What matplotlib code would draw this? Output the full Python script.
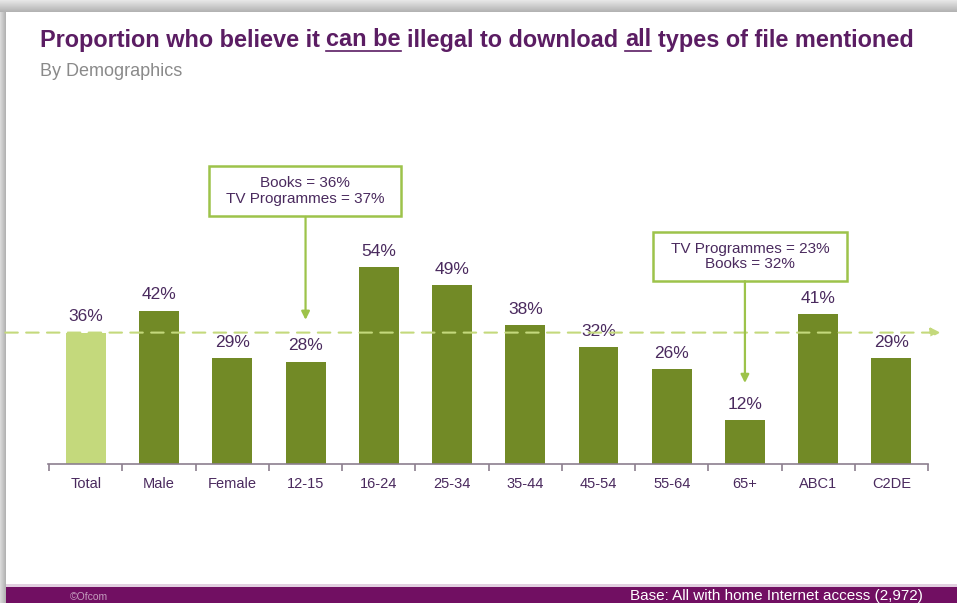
import numpy as np
import matplotlib
matplotlib.use("Agg")
from matplotlib import pyplot as plt
from matplotlib.patches import Rectangle

categories = ["Total", "Male", "Female", "12-15", "16-24", "25-34", "35-44",
              "45-54", "55-64", "65+", "ABC1", "C2DE"]
values = [36, 42, 29, 28, 54, 49, 38, 32, 26, 12, 41, 29]
total_value = values[0]

callouts = [
    (3, ["Books = 36%", "TV Programmes = 37%"]),
    (9, ["TV Programmes = 23%", "Books = 32%"]),
]

PURPLE = "#5b1d63"
TEXT = "#4a2a5e"
DARK_GREEN = "#728a26"
LIGHT_GREEN = "#c4d97c"
LINE_GREEN = "#9dc34a"
W, H = 957, 603

fig = plt.figure(figsize=(W / 100, H / 100), dpi=100)

# page decoration in pixel coordinates
bg = fig.add_axes([0, 0, 1, 1])
bg.set_xlim(0, W)
bg.set_ylim(H, 0)
bg.axis("off")
shade = np.linspace(0.9, 0.7, 12)[:, None] * np.ones((12, 2))
bg.imshow(shade, cmap="gray", vmin=0, vmax=1, extent=[0, W, 12, 0], aspect="auto")
side = np.linspace(0.85, 0.7, 6)[None, :] * np.ones((2, 6))
bg.imshow(side, cmap="gray", vmin=0, vmax=1, extent=[0, 6, H, 12], aspect="auto")
bg.add_patch(Rectangle((6, 584), W, 3, color="#e2cfe0", lw=0))
bg.add_patch(Rectangle((6, 587), W, 20, color="#710f62", lw=0))
bg.text(70, 597, "©Ofcom", fontsize=7.5, color="#c49cbe", va="center",
        family="Liberation Sans")
bg.text(923, 596, "Base: All with home Internet access (2,972)", fontsize=11,
        color="white", va="center", ha="right", family="Liberation Sans")
bg.text(40, 72, "By Demographics", fontsize=13, color="#8a8a8a", va="center",
        family="Liberation Sans")

# title drawn in pieces so selected words can be underlined
fig.canvas.draw()
renderer = fig.canvas.get_renderer()


def text_width(s, size):
    t = bg.text(0, 0, s, fontsize=size, fontweight="bold", family="Liberation Sans")
    w = t.get_window_extent(renderer=renderer).width
    t.remove()
    return w


pieces = [("Proportion who believe it ", False), ("can be", True),
          (" illegal to download ", False), ("all", True),
          (" types of file mentioned", False)]
title_size = 10.0
title_size *= 873 / text_width("".join(p for p, _ in pieces), title_size)
space = text_width("a a", title_size) - text_width("aa", title_size)

x = 40
for txt, underline in pieces:
    x += (len(txt) - len(txt.lstrip(" "))) * space
    core = txt.strip(" ")
    t = bg.text(x, 40, core, fontsize=title_size, fontweight="bold",
                color=PURPLE, va="center", ha="left", family="Liberation Sans")
    width = t.get_window_extent(renderer=renderer).width
    if underline:
        bg.plot([x, x + width], [50.5, 50.5], color=PURPLE, lw=1.2)
    x += width + (len(txt) - len(txt.rstrip(" "))) * space

# bar chart
ax = fig.add_axes([48 / W, 139 / H, (928 - 48) / W, 364 / H])
ax.patch.set_visible(False)
ax.set_xlim(-0.517, 11.46)
ax.set_ylim(0, 364 / 3.65)
xs = np.arange(len(categories))
colors = [LIGHT_GREEN] + [DARK_GREEN] * (len(categories) - 1)
ax.bar(xs, values, width=0.545, color=colors, zorder=2)
for xi, v in zip(xs, values):
    ax.text(xi, v + 2.3, f"{v}%", ha="center", va="bottom", fontsize=12.5,
            color=TEXT, family="Liberation Sans")

for s in ["top", "right", "left"]:
    ax.spines[s].set_visible(False)
ax.spines["bottom"].set_color("#8c7f8f")
ax.spines["bottom"].set_linewidth(1.2)
ax.set_yticks([])
ax.set_xticks(np.arange(len(categories) + 1) - 0.5, minor=True)
ax.set_xticks(xs)
ax.set_xticklabels(categories, fontsize=10.5, color=TEXT, family="Liberation Sans")
ax.tick_params(axis="x", which="major", length=0, pad=9)
ax.tick_params(axis="x", which="minor", length=5, color="#8c7f8f", width=1.2)

# reference line at the total value
ax.annotate("", xy=(11.67, total_value), xytext=(-1.1, total_value),
            xycoords="data", annotation_clip=False,
            arrowprops=dict(arrowstyle="-|>", color=LIGHT_GREEN, lw=1.5,
                            linestyle=(0, (6, 4)), mutation_scale=14,
                            shrinkA=0, shrinkB=0))

# callout boxes with arrows pointing at bars
box_specs = [(67.7, 39.5, 209, 401, 166, 216), (50.1, 22.2, 653, 847, 232, 281)]
for (idx, lines), (top, tip, x0, x1, y0, y1) in zip(callouts, box_specs):
    ax.annotate("", xy=(idx, tip), xytext=(idx, top), xycoords="data",
                annotation_clip=False,
                arrowprops=dict(arrowstyle="-|>", color=LINE_GREEN, lw=1.6,
                                mutation_scale=12, shrinkA=0, shrinkB=0))
    bg.add_patch(Rectangle((x0, y0), x1 - x0, y1 - y0, fill=True, fc="white",
                           ec=LINE_GREEN, lw=1.8, zorder=5))
    bg.text((x0 + x1) / 2, (y0 + y1) / 2, "\n".join(lines), ha="center",
            va="center", fontsize=11, color=TEXT, linespacing=1.1,
            family="Liberation Sans", zorder=6)

fig.savefig("out.png", dpi=100)
